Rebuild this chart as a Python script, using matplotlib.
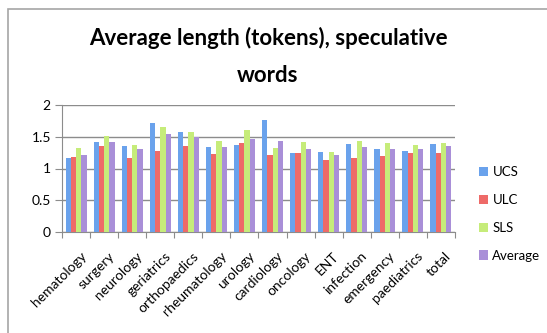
import matplotlib
matplotlib.use('Agg')
import matplotlib.pyplot as plt
from matplotlib.patches import Rectangle
import matplotlib.transforms as mtransforms
import numpy as np

categories = ['hematology', 'surgery', 'neurology', 'geriatrics', 'orthopaedics',
              'rheumatology', 'urology', 'cardiology', 'oncology', 'ENT',
              'infection', 'emergency', 'paediatrics', 'total']
ucs = [1.17, 1.41, 1.36, 1.71, 1.57, 1.34, 1.37, 1.76, 1.24, 1.26, 1.39, 1.31, 1.28, 1.38]
ulc = [1.18, 1.35, 1.17, 1.27, 1.35, 1.23, 1.40, 1.22, 1.25, 1.14, 1.17, 1.19, 1.25, 1.25]
sls = [1.32, 1.51, 1.37, 1.65, 1.58, 1.43, 1.61, 1.32, 1.41, 1.26, 1.44, 1.40, 1.37, 1.40]
avg = [1.22, 1.42, 1.30, 1.55, 1.49, 1.34, 1.46, 1.44, 1.30, 1.22, 1.34, 1.30, 1.30, 1.35]

series = ['UCS', 'ULC', 'SLS', 'Average']
colors = ['#6aa2ec', '#ee6a68', '#c6ec7a', '#a98fd8']
yticks = [0, 0.5, 1, 1.5, 2]
ytick_labels = ['0', '0.5', '1', '1.5', '2']

plt.rcParams['font.family'] = ['Lato', 'DejaVu Sans']

fig = plt.figure(figsize=(5.47, 3.33), dpi=100)
ax = fig.add_axes([62 / 547, 1 - 232 / 333, (455 - 62) / 547, (232 - 105) / 333])

# chart frame
fig.patches.append(Rectangle((8 / 547, -0.1), 1.2, 1 - 9 / 333 + 0.1,
                             transform=fig.transFigure, fill=False,
                             edgecolor='#a6a6a6', linewidth=1.2))

x = np.arange(len(categories))
w = 0.1875
for i, (name, vals) in enumerate(zip(series, [ucs, ulc, sls, avg])):
    ax.bar(x + (i - 1.5) * w, vals, width=w, color=colors[i], label=name, zorder=3)

ax.set_xlim(-0.5, len(categories) - 0.5)
ax.set_ylim(0, 2)
ax.set_yticks(yticks)
ax.set_yticklabels(ytick_labels, fontsize=10)
ax.yaxis.grid(True, color='#8c8c8c', linewidth=1, zorder=0)

ax.set_xticks(np.arange(len(categories) + 1) - 0.5, minor=False)
ax.set_xticklabels([])
ax.set_xticks(x, minor=True)
ax.set_xticklabels(categories, minor=True, rotation=45, ha='right',
                   rotation_mode='anchor', fontsize=10)
ax.tick_params(axis='x', which='minor', length=0, pad=13)
ax.tick_params(axis='x', which='major', length=4, color='#8c8c8c', direction='out')
ax.tick_params(axis='y', length=5, color='#8c8c8c', direction='out', pad=3)
offset = mtransforms.ScaledTranslation(4 / 100, 0, fig.dpi_scale_trans)
for lbl in ax.get_xticklabels(minor=True):
    lbl.set_transform(lbl.get_transform() + offset)

for s in ['top', 'right']:
    ax.spines[s].set_visible(False)
for s in ['left', 'bottom']:
    ax.spines[s].set_color('#8c8c8c')

fig.text(268 / 547, 1 - 38 / 333, 'Average length (tokens), speculative',
         ha='center', va='center', fontsize=16, fontweight='bold')
fig.text(268 / 547, 1 - 75 / 333, 'words',
         ha='center', va='center', fontsize=16, fontweight='bold')

leg = fig.legend(loc='upper left', bbox_to_anchor=(470 / 547, 1 - 157 / 333),
                 frameon=False, fontsize=9.5, handlelength=0.7, handleheight=0.7,
                 handletextpad=0.3, labelspacing=1.2, borderaxespad=0.3)

fig.savefig('out.png', dpi=100)
